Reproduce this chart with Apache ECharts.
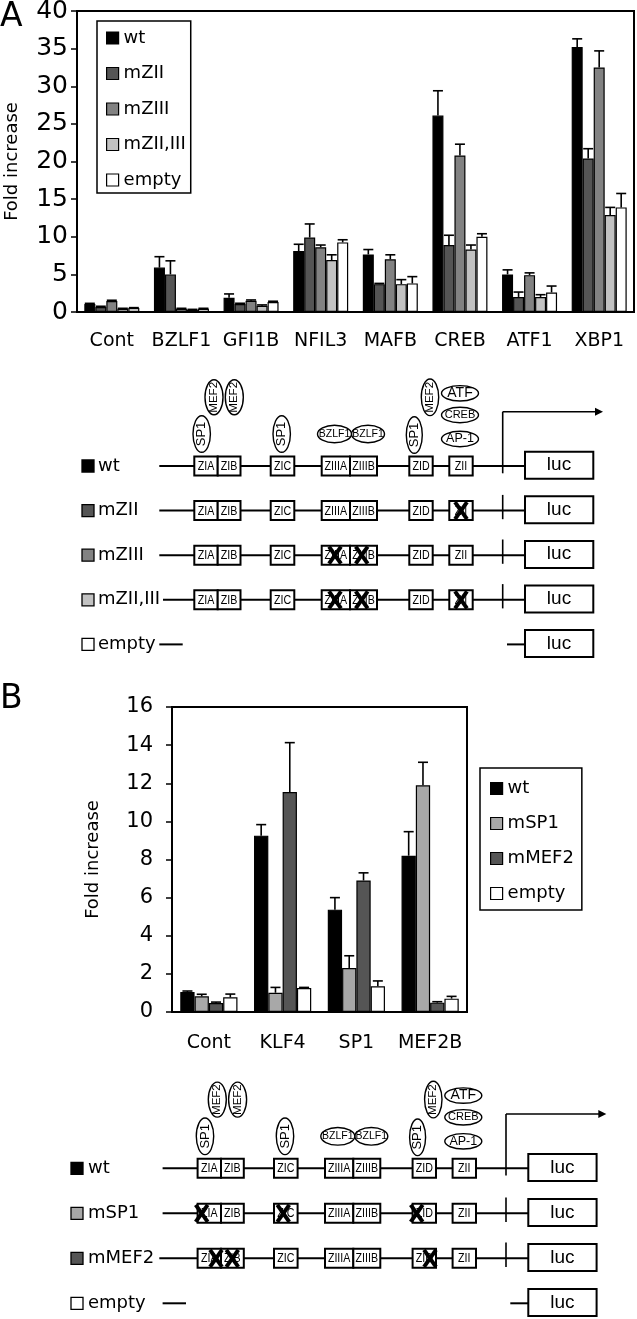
<!DOCTYPE html>
<html>
<head>
<meta charset="utf-8">
<script src="https://cdn.jsdelivr.net/npm/echarts@6/dist/echarts.min.js"></script>
<style>
  html, body { margin: 0; padding: 0; background: #fff; }
  #main { width: 637px; height: 1319px; }
</style>
</head>
<body>
<div id="main"></div>
<script>
// ---- panel A data ----
var catsA = ['Cont', 'BZLF1', 'GFI1B', 'NFIL3', 'MAFB', 'CREB', 'ATF1', 'XBP1'];
var namesA = ['wt', 'mZII', 'mZIII', 'mZII,III', 'empty'];
var wtA = [1.05, 5.9, 1.9, 8.1, 7.65, 26.1, 5.0, 35.2];
var wtAErr = [0.1, 1.45, 0.5, 0.9, 0.65, 3.3, 0.6, 1.1];
var mZII = [0.66, 5.0, 1.06, 9.9, 3.7, 8.9, 2.0, 20.4];
var mZIIErr = [0.1, 1.8, 0.1, 1.8, 0.1, 1.3, 0.65, 1.3];
var mZIII = [1.46, 0.44, 1.5, 8.6, 7.0, 20.8, 4.9, 32.5];
var mZIIIErr = [0.1, 0.05, 0.1, 0.3, 0.6, 1.5, 0.3, 2.2];
var mZIIandIII = [0.44, 0.3, 0.84, 6.9, 3.7, 8.3, 2.0, 12.9];
var mZIIandIIIErr = [0.05, 0.05, 0.1, 0.7, 0.6, 0.6, 0.3, 1.0];
var emptyA = [0.53, 0.44, 1.33, 9.25, 3.8, 10.0, 2.6, 13.9];
var emptyAErr = [0.05, 0.05, 0.1, 0.35, 0.9, 0.4, 0.85, 1.85];
var ticksA = [0, 5, 10, 15, 20, 25, 30, 35, 40];

// ---- panel B data ----
var catsB = ['Cont', 'KLF4', 'SP1', 'MEF2B'];
var namesB = ['wt', 'mSP1', 'mMEF2', 'empty'];
var wtB = [1.05, 9.25, 5.37, 8.2];
var wtBErr = [0.05, 0.58, 0.63, 1.26];
var mSP1 = [0.82, 1.01, 2.31, 11.89];
var mSP1Err = [0.11, 0.28, 0.64, 1.21];
var mMEF2 = [0.47, 11.54, 6.9, 0.49];
var mMEF2Err = [0.05, 2.59, 0.4, 0.05];
var emptyB = [0.77, 1.26, 1.35, 0.70];
var emptyBErr = [0.17, 0.03, 0.28, 0.12];
var ticksB = [0, 2, 4, 6, 8, 10, 12, 14, 16];

var colorsA = ['#000000', '#555555', '#828282', '#c2c2c2', '#ffffff'];
var colorsB = ['#000000', '#a8a8a8', '#555555', '#ffffff'];

var chart = echarts.init(document.getElementById('main'));

function barSeries(name, data, color, bw, ax) {
  return {
    type: 'bar', name: name, data: data, xAxisIndex: ax, yAxisIndex: ax,
    barWidth: bw, barGap: '0%',
    itemStyle: { color: color, borderColor: '#000', borderWidth: 1.2 }
  };
}

function errSeries(name, data, errs, k, n, bw, ax) {
  return {
    type: 'custom', name: name + ' err', xAxisIndex: ax, yAxisIndex: ax, z: 5, silent: true,
    data: data.map(function (v, i) { return [i, v, errs[i]]; }),
    encode: { x: 0, y: 1 },
    renderItem: function (params, api) {
      var i = api.value(0), v = api.value(1), e = api.value(2);
      var p0 = api.coord([i, v]), p1 = api.coord([i, v + e]);
      var x = p0[0] + (k - (n - 1) / 2) * bw;
      return { type: 'group', children: [
        { type: 'line', shape: { x1: x, y1: p0[1], x2: x, y2: p1[1] }, style: { stroke: '#000', lineWidth: 1.6 } },
        { type: 'line', shape: { x1: x - 5, y1: p1[1], x2: x + 5, y2: p1[1] }, style: { stroke: '#000', lineWidth: 1.6 } }
      ] };
    }
  };
}

var series = [];
var dataA = [wtA, mZII, mZIII, mZIIandIII, emptyA];
var errA = [wtAErr, mZIIErr, mZIIIErr, mZIIandIIIErr, emptyAErr];
namesA.forEach(function (n, k) { series.push(barSeries(n, dataA[k], colorsA[k], 11, 0)); });
namesA.forEach(function (n, k) { series.push(errSeries(n, dataA[k], errA[k], k, 5, 11, 0)); });
var dataB = [wtB, mSP1, mMEF2, emptyB];
var errB = [wtBErr, mSP1Err, mMEF2Err, emptyBErr];
namesB.forEach(function (n, k) { series.push(barSeries(n, dataB[k], colorsB[k], 14.3, 1)); });
namesB.forEach(function (n, k) { series.push(errSeries(n, dataB[k], errB[k], k, 4, 14.3, 1)); });

// ---- promoter schematics (drawn as graphics) ----
var FONT = '"DejaVu Sans", sans-serif';
var SMALL = '"Liberation Sans", Arial, sans-serif';
var boxes = [['ZIA', 194.3, 217.7], ['ZIB', 217.7, 240.5], ['ZIC', 270.7, 294.3],
  ['ZIIIA', 321.7, 350], ['ZIIIB', 350, 377], ['ZID', 409.3, 432.7], ['ZII', 449.3, 472.7]];
var ovals = [
  ['SP1', 201.7, -32, 8.7, 18.3, true, 13],
  ['MEF2', 214, -68.7, 9, 17.5, true, 11.5],
  ['MEF2', 234.3, -68.7, 9, 17.5, true, 11.5],
  ['SP1', 281.7, -32, 8.7, 18.3, true, 13],
  ['BZLF1', 368, -32, 16.5, 8.8, false, 10.5],
  ['BZLF1', 334.5, -32, 17, 8.8, false, 10.5],
  ['SP1', 414.3, -31, 8, 18.3, true, 13],
  ['MEF2', 430, -68.7, 8.7, 18.3, true, 11.5],
  ['ATF', 460, -72.7, 18.5, 7.7, false, 14],
  ['CREB', 460, -51, 18.5, 7.7, false, 11],
  ['AP-1', 460, -27, 18.5, 7.7, false, 12.5]
];
var rowsA = [
  { label: 'wt', color: colorsA[0], mut: [] },
  { label: 'mZII', color: colorsA[1], mut: [461] },
  { label: 'mZIII', color: colorsA[2], mut: [335, 361.7] },
  { label: 'mZII,III', color: colorsA[3], mut: [335, 361.7, 461], start: 163 },
  { label: 'empty', color: colorsA[4], empty: true }
];
var rowsB = [
  { label: 'wt', color: colorsB[0], mut: [] },
  { label: 'mSP1', color: colorsB[1], mut: [198.4, 280, 413.4] },
  { label: 'mMEF2', color: colorsB[2], mut: [212.7, 229, 426.7], start: 156 },
  { label: 'empty', color: colorsB[3], empty: true }
];

function txt(x, y, s, font, rot, sx) {
  return { type: 'text', x: x, y: y, rotation: rot || 0, scaleX: sx || 1, z: 20,
    style: { text: s, font: font, fill: '#000', textAlign: 'center', textVerticalAlign: 'middle', align: 'center', verticalAlign: 'middle' } };
}
function ln(x1, y1, x2, y2, w) {
  return { type: 'line', z: 10, shape: { x1: x1, y1: y1, x2: x2, y2: y2 }, style: { stroke: '#000', lineWidth: w || 2 } };
}

function diagram(dx, dy, rows, gap, sqX, labX, out) {
  rows.forEach(function (r, j) {
    var y = 466 + dy + j * gap;
    out.push({ type: 'rect', z: 10, shape: { x: sqX, y: y - 6, width: 12, height: 12 }, style: { fill: r.color, stroke: '#000', lineWidth: 1.3 } });
    out.push({ type: 'text', x: labX, y: y, z: 10, style: { text: r.label, font: '18px ' + FONT, fill: '#000', textVerticalAlign: 'middle', verticalAlign: 'middle' } });
    // luc box
    out.push({ type: 'rect', z: 10, shape: { x: 525 + dx, y: y - 14.3, width: 68.3, height: 27 }, style: { fill: '#fff', stroke: '#000', lineWidth: 2 } });
    out.push(txt(559 + dx, y - 1, 'luc', '19px ' + SMALL));
    if (r.empty) {
      out.push(ln(159.3 + dx, y, 182.7 + dx, y));
      out.push(ln(507 + dx, y, 525 + dx, y));
      return;
    }
    out.push(ln((r.start || 159.3) + dx, y, 525 + dx, y));
    boxes.forEach(function (b) {
      out.push({ type: 'rect', z: 11, shape: { x: b[1] + dx, y: y - 9.5, width: b[2] - b[1], height: 19 }, style: { fill: '#fff', stroke: '#000', lineWidth: 2 } });
      out.push(txt((b[1] + b[2]) / 2 + dx, y + 0.5, b[0], '13px ' + SMALL, 0, 0.82));
    });
    if (j === 0) {
      out.push(ln(502.7 + dx, y + 7.3, 502.7 + dx, y - 54.3, 1.6));
      out.push(ln(502.7 + dx, y - 54.3, 596 + dx, y - 54.3, 1.6));
      out.push({ type: 'polygon', z: 10, shape: { points: [[595 + dx, y - 58.3], [603 + dx, y - 54.3], [595 + dx, y - 50.3]] }, style: { fill: '#000' } });
      ovals.forEach(function (o) {
        out.push({ type: 'ellipse', z: 12, shape: { cx: o[1] + dx, cy: y + o[2], rx: o[3], ry: o[4] }, style: { fill: '#fff', stroke: '#000', lineWidth: 1.4 } });
        var t = txt(o[1] + dx, y + o[2], o[0], o[6] + 'px ' + SMALL, o[5] ? Math.PI / 2 : 0);
        t.z = 13;
        out.push(t);
      });
    } else {
      out.push(ln(502.7 + dx, y - 15.7, 502.7 + dx, y + 8.6, 1.6));
    }
    (r.mut || []).forEach(function (mx) {
      var x = mx + dx;
      out.push({ type: 'line', z: 25, shape: { x1: x - 6, y1: y - 8.5, x2: x + 6, y2: y + 8.5 }, style: { stroke: '#000', lineWidth: 4 } });
      out.push({ type: 'line', z: 25, shape: { x1: x + 6, y1: y - 8.5, x2: x - 6, y2: y + 8.5 }, style: { stroke: '#000', lineWidth: 4 } });
    });
  });
}

var graphics = [
  { type: 'text', x: 0, y: 1, style: { text: 'A', font: '33px ' + FONT, fill: '#000' } },
  { type: 'text', x: 0, y: 683, style: { text: 'B', font: '33px ' + FONT, fill: '#000' } }
];
diagram(0, 0, rowsA, 44.6, 82, 98, graphics);
diagram(3.3, 702.3, rowsB, 45, 71, 88, graphics);

function yAxis(ticks, gi, nameGap, nameSize, labelSize, margin) {
  return {
    type: 'value', gridIndex: gi, min: ticks[0], max: ticks[ticks.length - 1], interval: ticks[1] - ticks[0],
    name: 'Fold increase', nameLocation: 'middle', nameRotate: 90, nameGap: nameGap, nameMoveOverlap: false,
    nameTextStyle: { fontFamily: FONT, fontSize: nameSize, color: '#000' },
    axisLine: { show: true, lineStyle: { color: '#000', width: 2 } },
    axisTick: { show: true, length: 6, lineStyle: { color: '#000', width: 1.5 } },
    axisLabel: { fontFamily: FONT, fontSize: labelSize, color: '#000', margin: margin },
    splitLine: { show: false }
  };
}
function xAxis(cats, gi, margin) {
  return {
    type: 'category', gridIndex: gi, data: cats,
    axisLine: { lineStyle: { color: '#000', width: 2 } },
    axisTick: { length: 6, lineStyle: { color: '#000', width: 1.5 } },
    axisLabel: { fontFamily: FONT, fontSize: 19, color: '#000', margin: margin, interval: 0 }
  };
}
function legend(names, left, top, pad, gap) {
  return {
    data: names, orient: 'vertical', left: left, top: top, padding: pad,
    itemWidth: 12, itemHeight: 12, itemGap: gap, icon: 'rect',
    backgroundColor: '#fff', borderColor: '#000', borderWidth: 1.5, borderRadius: 0,
    itemStyle: { borderColor: '#000', borderWidth: 1.2 },
    textStyle: { fontFamily: FONT, fontSize: 18, color: '#000' },
    selectedMode: false
  };
}

chart.setOption({
  animation: false,
  backgroundColor: '#fff',
  grid: [
    { left: 77, top: 11, width: 557, height: 301, show: true, borderColor: '#000', borderWidth: 2,
      backgroundColor: 'transparent', outerBoundsMode: 'none', containLabel: false },
    { left: 172, top: 707, width: 295, height: 305, show: true, borderColor: '#000', borderWidth: 2,
      backgroundColor: 'transparent', outerBoundsMode: 'none', containLabel: false }
  ],
  xAxis: [xAxis(catsA, 0, 20), xAxis(catsB, 1, 22)],
  yAxis: [yAxis(ticksA, 0, 56, 18, 25, 9), yAxis(ticksB, 1, 70, 18, 21, 19)],
  legend: [legend(namesA, 97, 21, [8, 5, 4, 9], 17.5), legend(namesB, 480, 768, [11.5, 8, 7.5, 10], 17)],
  graphic: graphics,
  series: series
});
</script>
</body>
</html>
